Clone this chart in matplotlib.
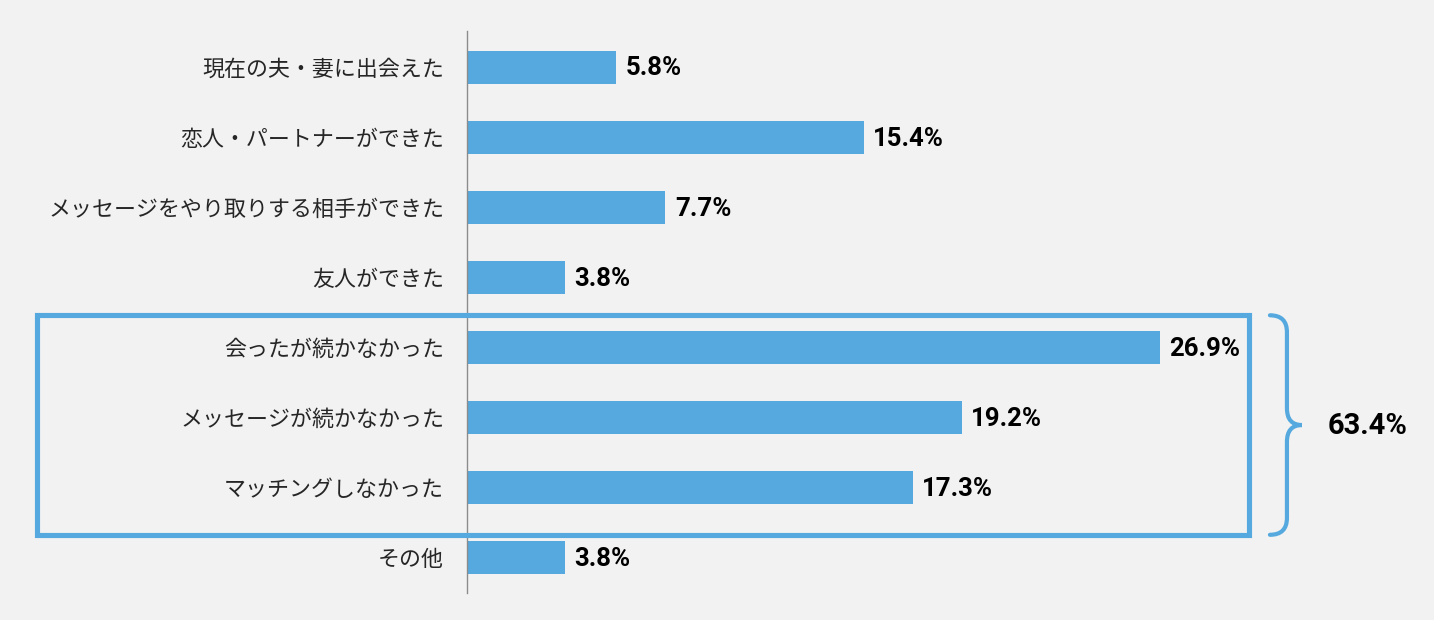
import matplotlib.pyplot as plt
from matplotlib.patches import Rectangle, PathPatch
from matplotlib.path import Path

# data
labels = ["現在の夫・妻に出会えた", "恋人・パートナーができた", "メッセージをやり取りする相手ができた",
          "友人ができた", "会ったが続かなかった", "メッセージが続かなかった", "マッチングしなかった", "その他"]
values = [5.8, 15.4, 7.7, 3.8, 26.9, 19.2, 17.3, 3.8]
group = [4, 5, 6]  # rows inside the box
group_total = round(sum(values[i] for i in group), 1)

bg = "#f2f2f2"
blue = "#55a9de"
jp = ["Noto Sans CJK JP", "DejaVu Sans"]
num = ["Roboto", "DejaVu Sans"]

fig = plt.figure(figsize=(14.34, 6.2), dpi=100, facecolor=bg)
W, H = 1434, 620
# axes: x from 467px to right edge, y from 31px to 593px
ax = fig.add_axes([467 / W, 1 - 593 / H, (W - 467) / W, (593 - 31) / H])
ax.set_facecolor(bg)

px = 25.76  # pixels per percent
ax.set_xlim(0, (W - 467) / px)
ax.set_ylim(7.5, -0.514)

y = list(range(len(labels)))
ax.barh(y, values, height=0.47, color=blue, zorder=2)

for yi, v in zip(y, values):
    ax.text(v + 0.37, yi + 0.02, f"{v}%", va="center", ha="left", fontsize=18.5,
            fontweight="bold", family=num, color="black")

ax.set_yticks(y)
ax.set_yticklabels(labels, family=jp, fontsize=15.8, color="#262626")
ax.tick_params(axis="y", length=0, pad=16.5)
ax.set_xticks([])
for s in ["top", "right", "bottom"]:
    ax.spines[s].set_visible(False)
ax.spines["left"].set_color("#8c8c8c")
ax.spines["left"].set_linewidth(1)

# box around the "not successful" group
top = group[0] - 0.46
bot = group[-1] + 0.67
x0 = -16.69
x1 = 30.36
ax.add_patch(Rectangle((x0, top), x1 - x0, bot - top, fill=False, edgecolor=blue,
                       linewidth=3.7, clip_on=False, zorder=3))

# brace
bx0, bx1, bx2 = 31.17, 31.83, 32.41
mid = (top + bot) / 2
r = 0.24
verts = [(bx0, top), (bx1, top), (bx1, top + r),
         (bx1, mid - r), (bx1, mid), (bx2, mid),
         (bx1, mid), (bx1, mid + r),
         (bx1, bot - r), (bx1, bot), (bx0, bot)]
codes = [Path.MOVETO, Path.CURVE3, Path.CURVE3,
         Path.LINETO, Path.CURVE3, Path.CURVE3,
         Path.CURVE3, Path.CURVE3,
         Path.LINETO, Path.CURVE3, Path.CURVE3]
ax.add_patch(PathPatch(Path(verts, codes), fill=False, edgecolor=blue,
                       linewidth=3, clip_on=False, capstyle="round"))

ax.text(33.42, mid + 0.02, f"{group_total}%", va="center", ha="left", fontsize=21,
        fontweight="bold", family=num, color="black")

fig.savefig("out.png", dpi=100, facecolor=bg)
